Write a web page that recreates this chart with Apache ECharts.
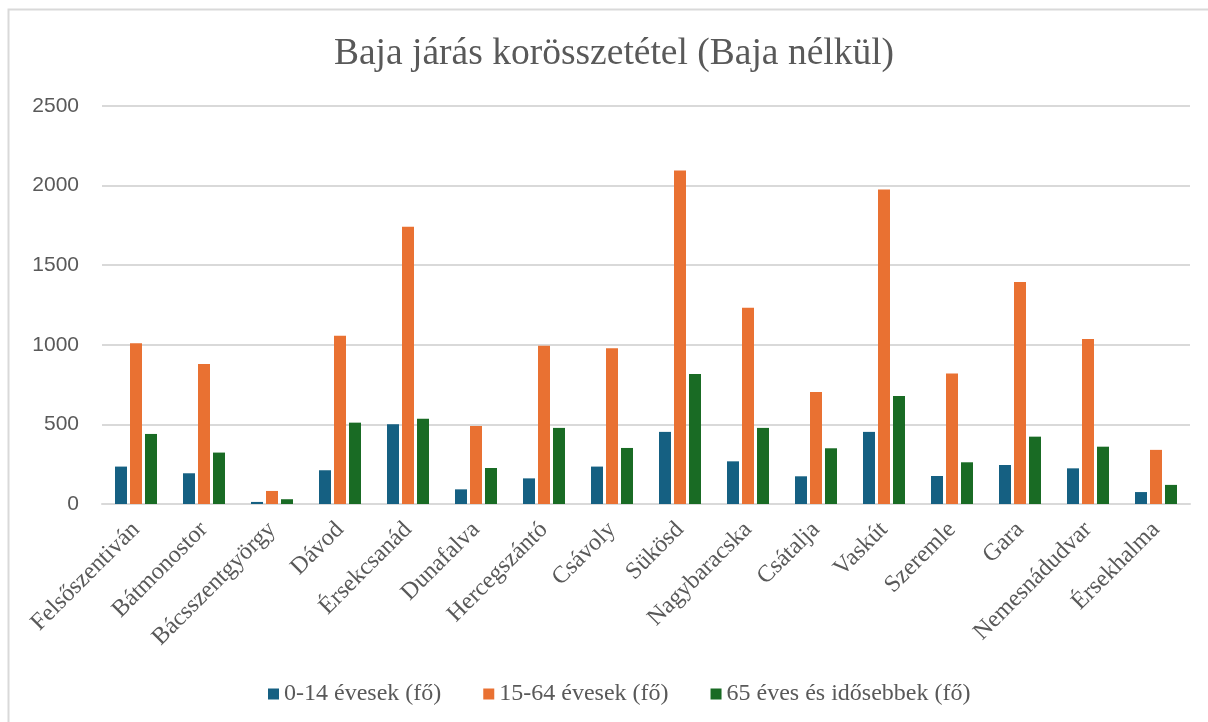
<!DOCTYPE html>
<html>
<head>
<meta charset="UTF-8">
<title>Baja járás korösszetétel</title>
<script src="https://cdn.jsdelivr.net/npm/echarts@6/dist/echarts.min.js"></script>
<style>
  * { margin: 0; padding: 0; }
  html, body { width: 1208px; height: 722px; background: #fff; overflow: hidden; }
  #app { width: 1208px; height: 722px; }
</style>
</head>
<body>
<div id="app"></div>
<script>
var telepulesek = ['Felsőszentiván', 'Bátmonostor', 'Bácsszentgyörgy', 'Dávod', 'Érsekcsanád',
  'Dunafalva', 'Hercegszántó', 'Csávoly', 'Sükösd', 'Nagybaracska', 'Csátalja', 'Vaskút',
  'Szeremle', 'Gara', 'Nemesnádudvar', 'Érsekhalma'];
var gyerek = [235, 193, 13, 212, 501, 92, 161, 235, 453, 268, 174, 453, 176, 245, 224, 75];
var aktiv = [1010, 879, 82, 1057, 1742, 490, 994, 979, 2095, 1233, 703, 1975, 820, 1394, 1036, 340];
var idos = [440, 323, 30, 511, 535, 226, 478, 352, 816, 478, 350, 679, 262, 423, 360, 120];
var yTicks = [0, 500, 1000, 1500, 2000, 2500];

var serif = '"Liberation Serif", "DejaVu Serif", serif';
var sans = '"Liberation Sans", Arial, sans-serif';
var txt = '#595959';

var chart = echarts.init(document.getElementById('app'));

function bar(name, data, color) {
  return {
    name: name,
    type: 'bar',
    data: data,
    barWidth: 12,
    barGap: '25%',
    itemStyle: { color: color }
  };
}

chart.setOption({
  animation: false,
  title: {
    text: 'Baja járás korösszetétel (Baja nélkül)',
    left: 609,
    textAlign: 'center',
    top: 30,
    textStyle: { fontFamily: serif, fontSize: 37.5, fontWeight: 'normal', color: txt }
  },
  graphic: [{
    type: 'rect',
    shape: { x: 8.5, y: 9.5, width: 1300, height: 800 },
    style: { fill: null, stroke: '#d9d9d9', lineWidth: 2 },
    silent: true
  }],
  legend: {
    top: 677,
    left: 263,
    itemWidth: 11,
    itemHeight: 11,
    itemGap: 42,
    icon: 'rect',
    textStyle: { fontFamily: serif, fontSize: 24, color: txt }
  },
  grid: { left: 102, right: 18, top: 106, bottom: 218 },
  xAxis: {
    type: 'category',
    data: telepulesek,
    axisLine: { lineStyle: { color: '#d9d9d9', width: 2 } },
    axisTick: { show: false },
    axisLabel: {
      rotate: 45,
      margin: 22,
      interval: 0,
      fontFamily: serif,
      fontSize: 24,
      color: txt
    }
  },
  yAxis: {
    type: 'value',
    min: yTicks[0],
    max: yTicks[yTicks.length - 1],
    interval: 500,
    axisLine: { show: false },
    axisTick: { show: false },
    splitLine: { lineStyle: { color: '#d9d9d9', width: 2 } },
    axisLabel: {
      margin: 23,
      fontFamily: sans,
      fontSize: 21,
      color: txt,
      formatter: function (v) { return String(v); }
    }
  },
  series: [
    bar('0-14 évesek (fő)', gyerek, '#156082'),
    bar('15-64 évesek (fő)', aktiv, '#E97132'),
    bar('65 éves és idősebbek (fő)', idos, '#196B24')
  ]
});
</script>
</body>
</html>
